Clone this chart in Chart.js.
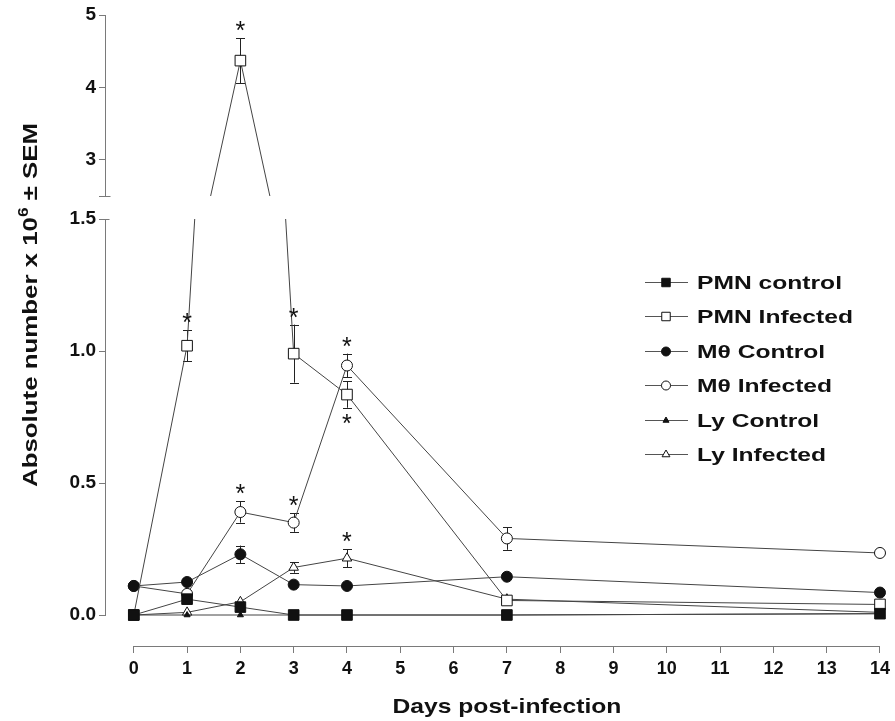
<!DOCTYPE html>
<html>
<head>
<meta charset="utf-8">
<style>
  html, body { margin: 0; padding: 0; background: #ffffff; }
  canvas { display: block; }
</style>
<script src="https://cdn.jsdelivr.net/npm/chart.js@4.4.1/dist/chart.umd.min.js"></script>
</head>
<body>
<canvas id="c" width="895" height="721"></canvas>
<script>
// ---------------- data ----------------
const days = [0, 1, 2, 3, 4, 7, 14];
const xTicks = [0, 1, 2, 3, 4, 5, 6, 7, 8, 9, 10, 11, 12, 13, 14];
const yTopTicks = [2.5, 3, 4, 5];
const yLowTicks = [0, 0.5, 1.0, 1.5];
const seriesLabels = ['PMN control', 'PMN Infected', 'M\u03B8 Control', 'M\u03B8 Infected', 'Ly Control', 'Ly Infected'];

const pmnControl  = [0, 0.06, 0.03, 0, 0, 0, 0.005];
const pmnInfected = [0, 1.02, 4.37, 0.99, 0.835, 0.055, 0.04];
const mthControl  = [0.11, 0.125, 0.23, 0.115, 0.11, 0.145, 0.085];
const mthInfected = [0.11, 0.08, 0.39, 0.35, 0.945, 0.29, 0.235];
const lyControl   = [0, 0, 0, 0, 0, 0, 0.005];
const lyInfected  = [0, 0.01, 0.05, 0.18, 0.215, 0.06, 0.01];

const noSem          = [0, 0, 0, 0, 0, 0, 0];
const pmnInfectedSem = [0, 0.058, 0.31, 0.11, 0.05, 0, 0];
const mthControlSem  = [0, 0, 0.033, 0, 0, 0, 0];
const mthInfectedSem = [0, 0, 0.04, 0.035, 0.045, 0.043, 0];
const lyInfectedSem  = [0, 0, 0, 0.02, 0.035, 0, 0];

const noSig          = [0, 0, 0, 0, 0, 0, 0];
const pmnInfectedSig = [0, 1, 1, 1, -1, 0, 0];   // 1 = asterisk above, -1 = below
const mthInfectedSig = [0, 0, 1, 1, 1, 0, 0];
const lyInfectedSig  = [0, 0, 0, 0, 1, 0, 0];

// ---------------- styling ----------------
const FONT = "'Liberation Sans', Arial, Helvetica, sans-serif";
const AXIS = '#7a7a7a';
const LINE = '#444444';
const INK = '#111111';

function series(label, values, sem, sig, style, filled, radius, legendRadius, axis, inLegend) {
  return {
    label: label,
    data: days.map((d, i) => ({ x: d, y: values[i] })),
    yAxisID: axis,
    sem: sem, sig: sig, inLegend: inLegend, legendRadius: legendRadius,
    borderColor: LINE, borderWidth: 1, tension: 0, fill: false, clip: false,
    pointStyle: style, pointRadius: radius, pointHoverRadius: radius,
    pointBackgroundColor: filled ? INK : '#ffffff', pointBorderColor: INK, pointBorderWidth: 1,
    backgroundColor: filled ? INK : '#ffffff'
  };
}

const datasets = [
  series(seriesLabels[0], pmnControl,  noSem,          noSig,          'rect',     true,  7.5, 6,   'yLow', true),
  series(seriesLabels[1], pmnInfected, pmnInfectedSem, pmnInfectedSig, 'rect',     false, 7.5, 6,   'yLow', true),
  series(seriesLabels[2], mthControl,  mthControlSem,  noSig,          'circle',   true,  5.5, 4.5, 'yLow', true),
  series(seriesLabels[3], mthInfected, mthInfectedSem, mthInfectedSig, 'circle',   false, 5.5, 4.5, 'yLow', true),
  series(seriesLabels[4], lyControl,   noSem,          noSig,          'triangle', true,  3.5, 3.5, 'yLow', true),
  series(seriesLabels[5], lyInfected,  lyInfectedSem,  lyInfectedSig,  'triangle', false, 5.5, 4.5, 'yLow', true),
  // upper (broken axis) segment of the PMN Infected series
  series(seriesLabels[1], pmnInfected, pmnInfectedSem, pmnInfectedSig, 'rect',     false, 7.5, 6,   'yTop', false)
];

// ---------------- plugins ----------------
function inRange(scale, v) { return v >= scale.min - 1e-9 && v <= scale.max + 1e-9; }

const breakPlugin = {
  id: 'breakPlugin',
  beforeDatasetDraw(chart, args) {
    const meta = args.meta, ys = meta.yScale, xs = meta.xScale, ctx = chart.ctx, ca = chart.chartArea;
    const isTop = ys.id === 'yTop';
    const top = isTop ? 0 : ys.top;
    const bottom = isTop ? ys.bottom : ca.bottom;
    ctx.save();
    ctx.beginPath();
    ctx.rect(0, top, chart.width, bottom - top);
    ctx.clip();
    // error bars (under the markers)
    const ds = chart.data.datasets[args.index];
    ctx.strokeStyle = '#222';
    ctx.lineWidth = 1;
    ds.data.forEach((p, i) => {
      const s = ds.sem[i];
      if (!s) return;
      const x = Math.round(xs.getPixelForValue(p.x)) + 0.5;
      const yt = ys.getPixelForValue(p.y + s);
      const yb = ys.getPixelForValue(p.y - s);
      ctx.beginPath();
      ctx.moveTo(x, yb); ctx.lineTo(x, yt);
      ctx.moveTo(x - 4.5, Math.round(yt) + 0.5); ctx.lineTo(x + 4.5, Math.round(yt) + 0.5);
      ctx.moveTo(x - 4.5, Math.round(yb) + 0.5); ctx.lineTo(x + 4.5, Math.round(yb) + 0.5);
      ctx.stroke();
    });
  },
  afterDatasetDraw(chart) {
    chart.ctx.restore();
  }
};

const decorPlugin = {
  id: 'decorPlugin',
  afterDatasetsDraw(chart) {
    const ctx = chart.ctx, xs = chart.scales.x, ca = chart.chartArea;
    const yTop = chart.scales.yTop, yLow = chart.scales.yLow;
    ctx.save();
    // x axis line from day 0 to day 14
    ctx.strokeStyle = AXIS; ctx.lineWidth = 1;
    const y0 = Math.round(ca.bottom) + 0.5;
    ctx.beginPath();
    ctx.moveTo(xs.getPixelForValue(xTicks[0]), y0);
    ctx.lineTo(xs.getPixelForValue(xTicks[xTicks.length - 1]), y0);
    ctx.stroke();
    // caps at the axis break
    const ax = Math.round(ca.left) + 0.5;
    ctx.beginPath();
    ctx.moveTo(ax, Math.round(yTop.bottom) + 0.5); ctx.lineTo(ax + 5, Math.round(yTop.bottom) + 0.5);
    ctx.moveTo(ax, Math.round(yLow.top) + 0.5); ctx.lineTo(ax + 4, Math.round(yLow.top) + 0.5);
    ctx.stroke();

    // significance asterisks
    ctx.fillStyle = INK;
    ctx.font = '25px ' + FONT;
    ctx.textAlign = 'center';
    ctx.textBaseline = 'alphabetic';
    const m = ctx.measureText('*');
    const centerShift = (m.actualBoundingBoxDescent - m.actualBoundingBoxAscent) / 2;
    chart.data.datasets.forEach((ds, di) => {
      const meta = chart.getDatasetMeta(di);
      const ys = meta.yScale;
      ds.data.forEach((p, i) => {
        const sg = ds.sig[i];
        if (!sg || !inRange(ys, p.y)) return;
        const s = ds.sem[i] || 0;
        const x = xs.getPixelForValue(p.x);
        let yc;
        if (sg > 0) yc = ys.getPixelForValue(p.y + s) - 12;
        else yc = ys.getPixelForValue(p.y - s) + 11;
        ctx.fillText('*', x, yc - centerShift);
      });
    });
    ctx.restore();
  },
  afterDraw(chart) {
    const ctx = chart.ctx, xs = chart.scales.x;
    ctx.save();
    ctx.fillStyle = INK;
    ctx.textBaseline = 'alphabetic';
    ctx.textAlign = 'left';

    // legend
    const lx0 = 645, lx1 = 688, lmx = 666, ltx = 697, ly0 = 282, ldy = 34.4;
    ctx.font = 'bold 19px ' + FONT;
    const kL = 145 / ctx.measureText(seriesLabels[0]).width;
    let row = 0;
    chart.data.datasets.forEach(ds => {
      if (!ds.inLegend) return;
      const y = ly0 + row * ldy;
      ctx.strokeStyle = '#555'; ctx.lineWidth = 1;
      ctx.beginPath(); ctx.moveTo(lx0, Math.round(y) + 0.5); ctx.lineTo(lx1, Math.round(y) + 0.5); ctx.stroke();
      ctx.fillStyle = ds.pointBackgroundColor; ctx.strokeStyle = INK;
      Chart.helpers.drawPoint(ctx, { pointStyle: ds.pointStyle, radius: ds.legendRadius, borderWidth: 1, rotation: 0 }, lmx, Math.round(y) + 0.5);
      ctx.fillStyle = INK;
      ctx.save();
      ctx.translate(ltx, y + 7);
      ctx.scale(kL, 1);
      ctx.fillText(ds.label, 0, 0);
      ctx.restore();
      row++;
    });

    // x axis title
    ctx.font = 'bold 21px ' + FONT;
    const xt = 'Days post-infection';
    const kx = 229 / ctx.measureText(xt).width;
    const cx = (xs.getPixelForValue(xTicks[0]) + xs.getPixelForValue(xTicks[xTicks.length - 1])) / 2;
    ctx.save();
    ctx.translate(cx, 713);
    ctx.scale(kx, 1);
    ctx.textAlign = 'center';
    ctx.fillText(xt, 0, 0);
    ctx.restore();

    // y axis title (rotated), with superscript
    const parts = [
      { t: 'Absolute number x 10', size: 21, rise: 0 },
      { t: '6', size: 14, rise: 9 },
      { t: ' \u00B1 SEM', size: 21, rise: 0 }
    ];
    let W = 0;
    parts.forEach(p => { ctx.font = 'bold ' + p.size + 'px ' + FONT; p.w = ctx.measureText(p.t).width; W += p.w; });
    const ky = 364 / W;
    ctx.save();
    ctx.translate(37, 305);
    ctx.rotate(-Math.PI / 2);
    ctx.scale(ky, 1);
    ctx.textAlign = 'left';
    let px = -W / 2;
    parts.forEach(p => {
      ctx.font = 'bold ' + p.size + 'px ' + FONT;
      ctx.fillText(p.t, px, -p.rise);
      px += p.w;
    });
    ctx.restore();
    ctx.restore();
  }
};

// ---------------- chart ----------------
const tickFontY = { family: FONT, size: 19, weight: 'bold' };
function yScale(id, min, max, weight, stackWeight, ticks, fmt, visible) {
  return {
    type: 'linear', position: 'left', stack: 'y', stackWeight: stackWeight, weight: weight,
    min: min, max: max, display: true,
    afterBuildTicks: s => { if (ticks) s.ticks = ticks.map(v => ({ value: v })); },
    afterFit: s => { s.width = 105; },
    grid: { display: visible, drawOnChartArea: false, drawTicks: true, tickLength: 6, color: AXIS, lineWidth: 1 },
    border: { display: visible, color: AXIS, width: 1 },
    ticks: { display: visible, font: tickFontY, color: INK, padding: 3, callback: fmt || (v => v) }
  };
}

new Chart(document.getElementById('c'), {
  type: 'line',
  data: { datasets: datasets },
  options: {
    responsive: false,
    animation: false,
    devicePixelRatio: 1,
    layout: { padding: { left: 0, top: 15, right: 14, bottom: 0 } },
    plugins: { legend: { display: false }, tooltip: { enabled: false }, title: { display: false } },
    scales: {
      x: {
        type: 'linear', position: 'bottom', min: -0.54, max: 14,
        afterBuildTicks: s => { s.ticks = xTicks.map(v => ({ value: v })); },
        afterFit: s => { s.height = 75; },
        grid: { display: true, drawOnChartArea: false, drawTicks: true, tickLength: 7, color: AXIS, lineWidth: 1 },
        border: { display: false },
        ticks: { font: { family: FONT, size: 18, weight: 'bold' }, color: INK, padding: 5, maxRotation: 0, autoSkip: false, callback: v => String(v) }
      },
      yGap2: yScale('yGap2', 0, 1, 1, 31, null, null, false),
      yLow: yScale('yLow', 0, 1.5, 2, 396, yLowTicks, v => v.toFixed(1), true),
      yGap: yScale('yGap', 0, 1, 3, 23, null, null, false),
      yTop: yScale('yTop', 2.5, 5, 4, 181, yTopTicks, v => (v === 2.5 ? '' : String(v)), true)
    }
  },
  plugins: [breakPlugin, decorPlugin]
});
</script>
</body>
</html>
